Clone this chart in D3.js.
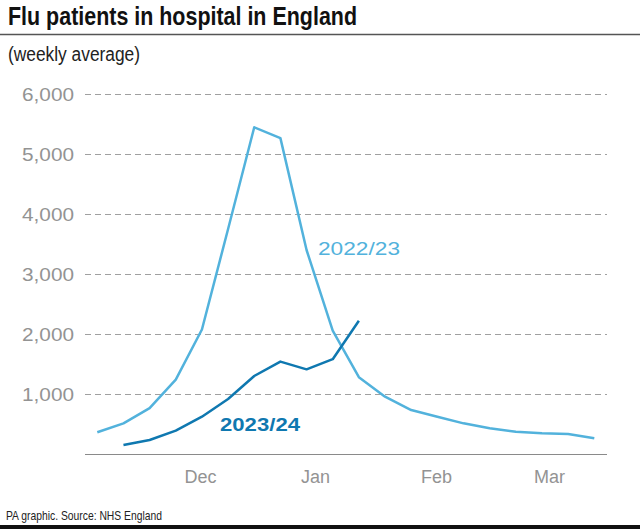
<!DOCTYPE html>
<html>
<head>
<meta charset="utf-8">
<script src="https://cdn.jsdelivr.net/npm/d3@7"></script>
<style>
  body { margin: 0; background: #fff; }
  svg { display: block; }
</style>
</head>
<body>
<svg id="chart" width="640" height="529"></svg>
<script>
// ---- data ----
const weeks = d3.range(20); // weekly points, index 0..19
const season2223 = [362, 511, 765, 1240, 2075, 3750, 5445, 5265, 3400, 2055, 1280, 955, 733, 622, 511, 428, 372, 344, 333, 262];
const season2324 = [null, 150, 233, 389, 622, 917, 1300, 1540, 1411, 1580, 2222];
const yTicks = [1000, 2000, 3000, 4000, 5000, 6000];
const monthLabels = ["Dec", "Jan", "Feb", "Mar"];
const monthWeekPos = [3.93, 8.32, 12.95, 17.27];
const seriesNames = ["2022/23", "2023/24"];

// ---- layout ----
const svg = d3.select("#chart");
const x = d3.scaleLinear().domain([0, 19]).range([97.3, 594.3]);
const y = d3.scaleLinear().domain([0, 6000]).range([454, 94]);
const gridX0 = 85, gridX1 = 607;
const light = "#52b2dc", dark = "#0f78b0", grey = "#939393";

// title
svg.append("text").attr("x", 8).attr("y", 25)
  .attr("font-family", "Liberation Sans, Arial, sans-serif")
  .attr("font-weight", "bold").attr("font-size", 26)
  .attr("textLength", 349).attr("lengthAdjust", "spacingAndGlyphs")
  .attr("fill", "#111").text("Flu patients in hospital in England");
svg.append("line").attr("x1", 0).attr("x2", 640).attr("y1", 34.5).attr("y2", 34.5)
  .attr("stroke", "#555").attr("stroke-width", 1.5);
svg.append("text").attr("x", 8).attr("y", 61)
  .attr("font-family", "Liberation Sans, Arial, sans-serif")
  .attr("font-size", 20).attr("textLength", 132).attr("lengthAdjust", "spacingAndGlyphs")
  .attr("fill", "#222").text("(weekly average)");

// y axis labels
const yAxis = d3.axisLeft(y).tickValues(yTicks).tickFormat(d3.format(",")).tickSize(0).tickPadding(0);
const gy = svg.append("g").attr("transform", `translate(74,0)`).call(yAxis);
gy.select(".domain").remove();
gy.selectAll("text").attr("font-family", "Liberation Sans, Arial, sans-serif")
  .attr("font-size", 18).attr("fill", grey).attr("dy", "0.35em")
  .attr("textLength", 52).attr("lengthAdjust", "spacingAndGlyphs");

// gridlines
svg.append("g").selectAll("line").data(yTicks).join("line")
  .attr("x1", gridX0).attr("x2", gridX1)
  .attr("y1", d => Math.round(y(d)) + 0.5).attr("y2", d => Math.round(y(d)) + 0.5)
  .attr("stroke", "#a0a0a0").attr("stroke-width", 1).attr("stroke-dasharray", "6,4");

// baseline
svg.append("line").attr("x1", gridX0).attr("x2", gridX1)
  .attr("y1", y(0) + 0.5).attr("y2", y(0) + 0.5)
  .attr("stroke", "#8a8a8a").attr("stroke-width", 1.2);

// x axis month labels
const xAxis = d3.axisBottom(x).tickValues(monthWeekPos)
  .tickFormat((d, i) => monthLabels[i]).tickSize(0).tickPadding(0);
const gx = svg.append("g").attr("transform", `translate(0,483)`).call(xAxis);
gx.select(".domain").remove();
gx.selectAll("text").attr("font-family", "Liberation Sans, Arial, sans-serif")
  .attr("font-size", 18).attr("fill", grey).attr("dy", 0);

// lines
const line = d3.line().defined(d => d != null)
  .x((d, i) => x(i)).y(d => y(d));
svg.append("path").datum(season2223).attr("d", line)
  .attr("fill", "none").attr("stroke", light).attr("stroke-width", 2.5)
  .attr("stroke-linejoin", "round");
svg.append("path").datum(season2324).attr("d", line)
  .attr("fill", "none").attr("stroke", dark).attr("stroke-width", 2.5)
  .attr("stroke-linejoin", "round");

// series labels
svg.append("text").attr("x", 318).attr("y", 255)
  .attr("font-family", "Liberation Sans, Arial, sans-serif").attr("font-size", 19)
  .attr("textLength", 82).attr("lengthAdjust", "spacingAndGlyphs")
  .attr("fill", light).text(seriesNames[0]);
svg.append("text").attr("x", 220).attr("y", 431)
  .attr("font-family", "Liberation Sans, Arial, sans-serif").attr("font-size", 19)
  .attr("font-weight", "bold")
  .attr("textLength", 80).attr("lengthAdjust", "spacingAndGlyphs")
  .attr("fill", dark).text(seriesNames[1]);

// footer
svg.append("text").attr("x", 6).attr("y", 520)
  .attr("font-family", "Liberation Sans, Arial, sans-serif").attr("font-size", 13.5)
  .attr("textLength", 156).attr("lengthAdjust", "spacingAndGlyphs")
  .attr("fill", "#222").text("PA graphic. Source: NHS England");
svg.append("rect").attr("x", 0).attr("y", 525).attr("width", 640).attr("height", 4).attr("fill", "#111");
</script>
</body>
</html>
